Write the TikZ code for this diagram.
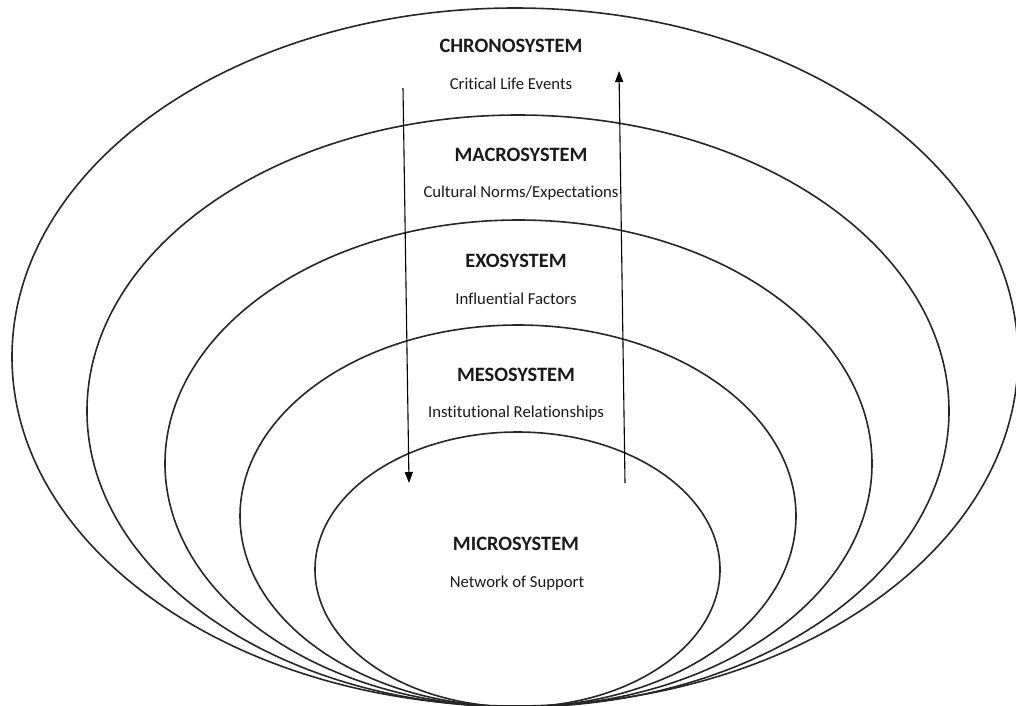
\documentclass[tikz,border=0pt]{standalone}
\usepackage{fontspec}
\setmainfont[Ligatures=NoCommon]{Carlito}
\usetikzlibrary{shapes.geometric,arrows.meta}
\tikzset{
  ring/.style={draw=black!85, line width=1.6pt, ellipse, inner sep=0pt, fill=none},
  ttl/.style={font=\fontsize{20.4}{24}\selectfont\bfseries, text=black!90, inner sep=0pt},
  sub/.style={font=\fontsize{16.7}{20}\selectfont, text=black!90, inner sep=0pt},
  flow/.style={draw=black, line width=1.1pt, -{Triangle[length=11pt,width=8pt]}}
}
\begin{document}
\begin{tikzpicture}[x=1pt,y=-1pt]
\useasboundingbox (0,0) rectangle (1016,705);
% nested systems (all touching at the bottom)
\node[ring, minimum width=1006pt, minimum height=698pt] (chrono) at (515,357) {};
\node[ring, minimum width=862pt, minimum height=592pt] (macro) at (518,411) {};
\node[ring, minimum width=707pt, minimum height=487pt] (exo) at (518.5,463.5) {};
\node[ring, minimum width=556pt, minimum height=382pt] (meso) at (518,516) {};
\node[ring, minimum width=405pt, minimum height=275pt] (micro) at (517.5,569.5) {};
% labels
\node[ttl] (t1) at (511,46) {CHRONOSYSTEM};
\node[sub] (s1) at (511,84) {Critical Life Events};
\node[ttl] (t2) at (521,155) {MACROSYSTEM};
\node[sub] (s2) at (521,193) {Cultural Norms/Expectations};
\node[ttl] (t3) at (516,261) {EXOSYSTEM};
\node[sub] (s3) at (516,299) {Influential Factors};
\node[ttl] (t4) at (516,375) {MESOSYSTEM};
\node[sub] (s4) at (516,413) {Institutional Relationships};
\node[ttl] (t5) at (516,544) {MICROSYSTEM};
\node[sub] (s5) at (517,583) {Network of Support};
% arrows
\coordinate (dtop) at (403,88);
\coordinate (dbot) at (409,483);
\coordinate (ubot) at (625,483);
\coordinate (utop) at (619,71);
\draw[flow] (dtop) -- (dbot);
\draw[flow] (ubot) -- (utop);
\end{tikzpicture}
\end{document}
